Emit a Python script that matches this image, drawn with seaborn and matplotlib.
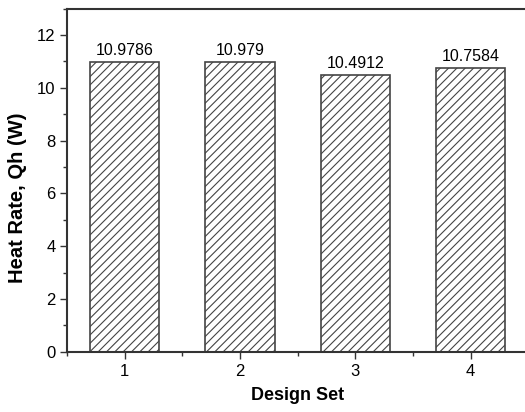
import numpy as np
import pandas as pd
import seaborn as sns
import matplotlib.pyplot as plt
from matplotlib.ticker import MultipleLocator

design_set = [1, 2, 3, 4]
heat_rate = [10.9786, 10.979, 10.4912, 10.7584]
bar_labels = ['10.9786', '10.979', '10.4912', '10.7584']

df = pd.DataFrame({'design': design_set, 'qh': heat_rate})

sns.set_style('ticks')
plt.rcParams['font.family'] = ['Liberation Sans', 'DejaVu Sans']
plt.rcParams['hatch.linewidth'] = 0.8
plt.rcParams['hatch.color'] = 'black'
plt.rcParams['text.color'] = 'black'
plt.rcParams['axes.labelcolor'] = 'black'
plt.rcParams['xtick.color'] = 'black'
plt.rcParams['ytick.color'] = 'black'

fig = plt.figure(figsize=(5.25, 4.12), dpi=100)
ax = fig.add_axes([0.128, 0.146, 0.878, 0.833])

sns.barplot(data=df, x='design', y='qh', native_scale=True, width=0.6,
            color='white', edgecolor='#444444', linewidth=1.2,
            hatch='////', ax=ax, errorbar=None)

for x, v, lab in zip(design_set, heat_rate, bar_labels):
    ax.annotate(lab, (x, v), xytext=(0, 3), textcoords='offset points',
                ha='center', va='bottom', fontsize=11.5)

ax.set_xlim(0.5, 4.5)
ax.set_ylim(0, 13)
ax.xaxis.set_major_locator(MultipleLocator(1))
ax.xaxis.set_minor_locator(MultipleLocator(0.5))
ax.yaxis.set_major_locator(MultipleLocator(2))
ax.yaxis.set_minor_locator(MultipleLocator(1))
ax.tick_params(which='major', length=5, width=1, color='#333333', labelsize=12)
ax.tick_params(which='minor', length=3, width=1, color='#333333')

for s in ax.spines.values():
    s.set_linewidth(1.5)
    s.set_color('#333333')

ax.set_xlabel('Design Set', fontsize=13, fontweight='bold', labelpad=6)
ax.set_ylabel('Heat Rate, Qh (W)', fontsize=14.5, fontweight='bold')
ax.yaxis.set_label_coords(-0.087, 0.449)

fig.savefig('out.png', dpi=100)
